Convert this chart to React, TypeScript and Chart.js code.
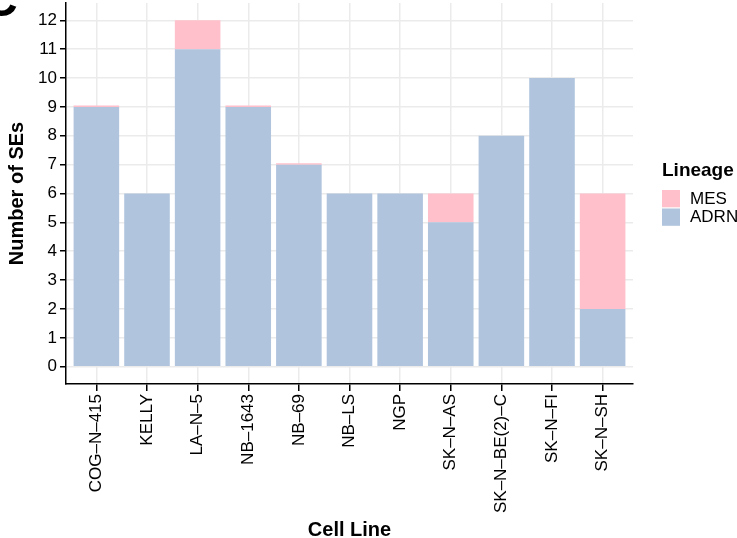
import React, { useEffect, useRef } from "react";
import { Chart, registerables } from "chart.js";

Chart.register(...registerables);

const categories = [
  "COG–N–415",
  "KELLY",
  "LA–N–5",
  "NB–1643",
  "NB–69",
  "NB–LS",
  "NGP",
  "SK–N–AS",
  "SK–N–BE(2)–C",
  "SK–N–FI",
  "SK–N–SH",
];
const adrnValues = [9, 6, 11, 9, 7, 6, 6, 5, 8, 10, 2];
const mesValues = [0.05, 0, 1, 0.05, 0.05, 0, 0, 1, 0, 0, 4];
const yTickValues = [0, 1, 2, 3, 4, 5, 6, 7, 8, 9, 10, 11, 12];
const seriesNames = ["ADRN", "MES"];
const legendTitle = "Lineage";
const xTitle = "Cell Line";
const yTitle = "Number of SEs";
const panelTag = "C";

const ADRN_COLOR = "#B0C4DE";
const MES_COLOR = "#FFC0CB";
const FONT = "'Liberation Sans', Arial, Helvetica, sans-serif";

const ggLegend = {
  id: "ggLegend",
  afterDraw(chart: any) {
    const ctx = chart.ctx as CanvasRenderingContext2D;
    ctx.save();
    ctx.fillStyle = "#000";
    ctx.textAlign = "left";
    ctx.textBaseline = "alphabetic";
    ctx.font = `bold 19px ${FONT}`;
    ctx.fillText(legendTitle, 662, 176);
    const items = [...chart.data.datasets].reverse();
    items.forEach((ds: any, i: number) => {
      const y = 190 + i * 18.5;
      ctx.fillStyle = ds.backgroundColor;
      ctx.fillRect(662, y, 18, 17.3);
      ctx.fillStyle = "#000";
      ctx.font = `17px ${FONT}`;
      ctx.textBaseline = "middle";
      ctx.fillText(ds.label, 690, y + 9);
    });
    ctx.font = `bold 48px ${FONT}`;
    ctx.textBaseline = "alphabetic";
    ctx.fillText(panelTag, -17, 16);
    ctx.restore();
  },
};

export default function App() {
  const ref = useRef<HTMLCanvasElement>(null);
  useEffect(() => {
    document.body.style.margin = "0";
    Chart.defaults.font.family = FONT;
    const chart = new Chart(ref.current as HTMLCanvasElement, {
      type: "bar",
      data: {
        datasets: [
          {
            label: seriesNames[0],
            data: adrnValues.map((v, i) => ({ x: i, y: v })),
            backgroundColor: ADRN_COLOR,
            borderWidth: 0,
            categoryPercentage: 1,
            barPercentage: 0.9,
          },
          {
            label: seriesNames[1],
            data: mesValues.map((v, i) => ({ x: i, y: v })),
            backgroundColor: MES_COLOR,
            borderWidth: 0,
            categoryPercentage: 1,
            barPercentage: 0.9,
          },
        ],
      },
      options: {
        animation: false,
        responsive: false,
        devicePixelRatio: 1,
        layout: { padding: { top: 3, right: 104, bottom: 0, left: 0 } },
        plugins: {
          legend: { display: false },
          tooltip: { enabled: false },
        },
        scales: {
          x: {
            type: "linear",
            stacked: true,
            offset: false,
            min: -0.6,
            max: categories.length - 1 + 0.6,
            afterBuildTicks: (scale: any) => {
              scale.ticks = categories.map((_, i) => ({ value: i }));
            },
            afterFit: (scale: any) => {
              scale.height = 154;
              scale.paddingLeft = 0;
              scale.paddingRight = 0;
            },
            ticks: {
              autoSkip: false,
              minRotation: 90,
              maxRotation: 90,
              padding: 3,
              color: "#000",
              font: { size: 17 },
              callback: (value: any) => categories[Math.round(Number(value))],
            },
            grid: {
              offset: false,
              color: "#EBEBEB",
              lineWidth: 1.5,
              tickColor: "#000",
              tickLength: 7,
              tickWidth: 1.5,
            },
            border: { display: true, color: "#000", width: 1.5 },
            title: {
              display: true,
              text: xTitle,
              color: "#000",
              font: { size: 20, weight: "bold" },
              padding: { top: 0, bottom: -4 },
            },
          },
          y: {
            type: "linear",
            stacked: true,
            min: -0.6,
            max: 12.6,
            afterBuildTicks: (scale: any) => {
              scale.ticks = yTickValues.map((v) => ({ value: v }));
            },
            afterFit: (scale: any) => {
              scale.width = 66;
              scale.paddingTop = 0;
              scale.paddingBottom = 0;
            },
            ticks: {
              padding: 3,
              color: "#000",
              font: { size: 17 },
              callback: (value: any) => String(value),
            },
            grid: {
              color: "#EBEBEB",
              lineWidth: 1.5,
              tickColor: "#000",
              tickLength: 6,
              tickWidth: 1.5,
            },
            border: { display: true, color: "#000", width: 1.5 },
            title: {
              display: true,
              text: yTitle,
              color: "#000",
              font: { size: 20, weight: "bold" },
              padding: { top: 5, bottom: 0 },
            },
          },
        },
      },
      plugins: [ggLegend],
    } as any);
    return () => chart.destroy();
  }, []);
  return (
    <div style={{ position: "fixed", left: 0, top: 0, width: 737, height: 538, background: "#fff" }}>
      <canvas ref={ref} width={737} height={538} style={{ display: "block", width: 737, height: 538 }} />
    </div>
  );
}
